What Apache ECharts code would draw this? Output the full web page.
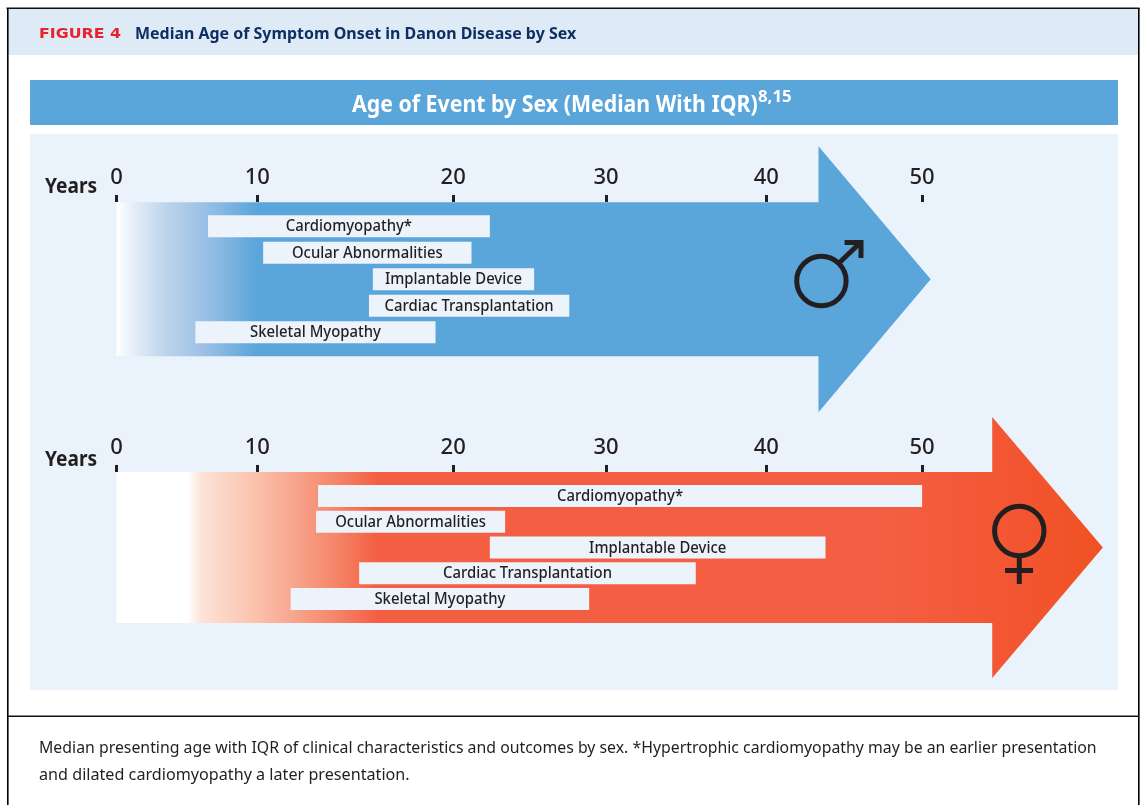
<!DOCTYPE html>
<html>
<head>
<meta charset="utf-8">
<style>html,body{margin:0;padding:0;background:#fff}#c{width:1142px;height:805px}</style>
<script src="https://cdn.jsdelivr.net/npm/echarts@6/dist/echarts.min.js"></script>
</head>
<body>
<div id="c"></div>
<script>
// ---- Data (ages in years) ----
const rows = ['Cardiomyopathy*', 'Ocular Abnormalities', 'Implantable Device', 'Cardiac Transplantation', 'Skeletal Myopathy'];
const maleStart = [6.5, 10.3, 15.9, 15.7, 5.6];
const maleEnd = [22.4, 21.2, 25.3, 27.6, 19.1];
const femaleStart = [13.1, 13.0, 22.4, 15.2, 11.7];
const femaleEnd = [50, 23.4, 43.8, 35.6, 28.9];
const tickAges = [0, 10, 20, 30, 40, 50];
const maleArrow = [0, 43.35, 50.55];
const femaleArrow = [0, 54.5, 61.6];

// ---- The printed axis is not evenly spaced: its ticks sit at these places on a 0-100 track ----
const trackStops = [0.05, 14.1, 33.65, 48.9, 64.9, 80.45];
function track(age) {
  let i = 0;
  while (i < tickAges.length - 2 && age > tickAges[i + 1]) i++;
  const a0 = tickAges[i], a1 = tickAges[i + 1], t0 = trackStops[i], t1 = trackStops[i + 1];
  return t0 + (age - a0) / (a1 - a0) * (t1 - t0);
}

// ---- Style ----
const INK = '#231f20', BLUE = '#5aa5da', PANEL = '#eaf2fb', BAR = '#edf3fa', HEAD = '#deeaf6';
const FONT = '"Noto Sans", sans-serif';
const maleStops = [[0, '#ffffff'], [1.2, '#e5eef8'], [3.6, '#bbd3eb'], [6, '#9fc2e6'], [10, BLUE], [50.55, BLUE]];
const femaleStops = [[0, '#ffffff'], [5, '#ffffff'], [6, '#fce3d8'], [10, '#fbc0ab'], [12.2, '#f7a088'], [13.9, '#f5876b'], [16.1, '#f45f43'], [47, '#f45f43'], [56.5, '#f25530'], [61.6, '#f15223']];

function arrowSeries(gridIndex, arrow, stops, shaftHalf, headHalf) {
  return {
    type: 'custom', xAxisIndex: gridIndex, yAxisIndex: gridIndex, z: 1, silent: true, clip: false,
    data: [arrow],
    encode: { x: [0, 1, 2] },
    renderItem(params, api) {
      const x0 = api.coord([track(api.value(0)), 2]);
      const xh = api.coord([track(api.value(1)), 2])[0];
      const xt = api.coord([track(api.value(2)), 2])[0];
      const cy = x0[1];
      const span = track(api.value(2)) - track(api.value(0));
      const grad = new echarts.graphic.LinearGradient(x0[0], 0, xt, 0,
        stops.map(s => ({ offset: Math.min(1, (track(s[0]) - track(api.value(0))) / span), color: s[1] })), true);
      return {
        type: 'polygon',
        shape: { points: [[x0[0], cy - shaftHalf], [xh, cy - shaftHalf], [xh, cy - headHalf], [xt, cy], [xh, cy + headHalf], [xh, cy + shaftHalf], [x0[0], cy + shaftHalf]] },
        style: { fill: grad }
      };
    }
  };
}
function barSeries(gridIndex, starts, ends) {
  return {
    type: 'custom', xAxisIndex: gridIndex, yAxisIndex: gridIndex, z: 3, silent: true, clip: false,
    data: rows.map((r, i) => [starts[i], ends[i], i]),
    encode: { x: [0, 1], y: 2 },
    renderItem(params, api) {
      const a = api.coord([track(api.value(0)), api.value(2)]);
      const b = api.coord([track(api.value(1)), api.value(2)]);
      return {
        type: 'group',
        children: [
          { type: 'rect', shape: { x: a[0], y: a[1] - 11, width: b[0] - a[0], height: 22 }, style: { fill: BAR } },
          { type: 'text', x: (a[0] + b[0]) / 2, y: a[1] + 0.5, scaleX: 0.93, style: { x: 0, y: 0, text: rows[params.dataIndex], align: 'center', verticalAlign: 'middle', fill: INK, font: '500 16px ' + FONT } }
        ]
      };
    }
  };
}
function xAxis(gridIndex) {
  return {
    type: 'value', gridIndex, position: 'top', offset: 11, min: 0, max: 100, z: 5,
    splitLine: { show: false },
    axisLine: { show: false },
    axisTick: { show: true, length: 7, inside: false, customValues: trackStops, lineStyle: { color: INK, width: 3 } },
    axisLabel: { show: true, customValues: trackStops, margin: 13, color: INK, fontFamily: FONT, fontSize: 22, fontWeight: 500,
      formatter: (v, i) => String(tickAges[trackStops.indexOf(v)]) }
  };
}
function yAxis(gridIndex) {
  return { type: 'category', gridIndex, inverse: true, data: rows, show: false };
}
const txt = (x, y, text, font, fill, scaleX) => ({ type: 'text', z: 20, x, y, scaleX: scaleX || 1, style: { text, font, fill, align: 'left', verticalAlign: 'middle' } });
const box = (x, y, w, h, fill, z) => ({ type: 'rect', z: z === undefined ? -1 : z, shape: { x, y, width: w, height: h }, style: { fill } });
const stroke = { stroke: INK, lineWidth: 5, fill: null };

const option = {
  animation: false,
  backgroundColor: '#ffffff',
  grid: [
    { left: 116, width: 1002, top: 213, height: 132.5 },
    { left: 116, width: 1002, top: 483, height: 129 }
  ],
  xAxis: [xAxis(0), xAxis(1)],
  yAxis: [yAxis(0), yAxis(1)],
  series: [
    arrowSeries(0, maleArrow, maleStops, 77, 133),
    barSeries(0, maleStart, maleEnd),
    arrowSeries(1, femaleArrow, femaleStops, 75.5, 130.5),
    barSeries(1, femaleStart, femaleEnd)
  ],
  graphic: { elements: [
    box(8, 9, 1131, 46, HEAD),
    box(30, 80, 1088, 45, BLUE),
    box(30, 134, 1088, 556, PANEL),
    box(6.5, 7.5, 1133, 1.6, '#111', 30),
    box(7, 8, 1.6, 797, '#000', 30),
    box(1138, 8, 1.6, 797, '#000', 30),
    box(8, 715.5, 1131, 1.6, '#111', 30),
    txt(39, 34, 'FIGURE 4', '700 14.5px "DejaVu Sans"', '#e8222e', 1.09),
    txt(135, 34, 'Median Age of Symptom Onset in Danon Disease by Sex', '700 16px ' + FONT, '#0f2f63', 0.997),
    txt(352, 105, 'Age of Event by Sex (Median With IQR)', '700 24px ' + FONT, '#ffffff', 0.888),
    txt(758, 97.5, '8,15', '700 16px ' + FONT, '#ffffff', 1.05),
    txt(45, 187, 'Years', '700 22px ' + FONT, INK, 0.87),
    txt(45, 460, 'Years', '700 22px ' + FONT, INK, 0.87),
    txt(39, 748, 'Median presenting age with IQR of clinical characteristics and outcomes by sex. *Hypertrophic cardiomyopathy may be an earlier presentation', '400 16px ' + FONT, INK, 0.99),
    txt(39, 775, 'and dilated cardiomyopathy a later presentation.', '400 16px ' + FONT, INK, 1.01),
    // male symbol
    { type: 'circle', z: 20, shape: { cx: 821.4, cy: 281, r: 24.7 }, style: stroke },
    { type: 'line', z: 20, shape: { x1: 839, y1: 263, x2: 861, y2: 242 }, style: stroke },
    { type: 'polyline', z: 20, shape: { points: [[844.6, 242.5], [861, 242.5], [861, 258]] }, style: stroke },
    // female symbol
    { type: 'circle', z: 20, shape: { cx: 1019.3, cy: 531, r: 24.7 }, style: stroke },
    { type: 'line', z: 20, shape: { x1: 1019.3, y1: 556, x2: 1019.3, y2: 584 }, style: stroke },
    { type: 'line', z: 20, shape: { x1: 1005, y1: 570.5, x2: 1033, y2: 570.5 }, style: stroke }
  ] }
};
echarts.init(document.getElementById('c'), null, { renderer: 'canvas' }).setOption(option);
</script>
</body>
</html>
